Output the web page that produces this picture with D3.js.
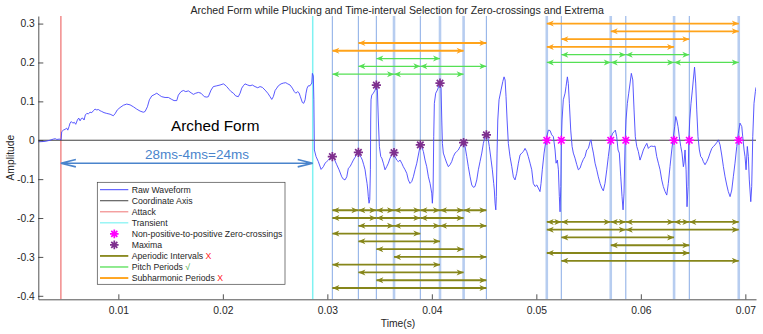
<!DOCTYPE html>
<html>
<head>
<meta charset="utf-8">
<style>
  body { margin: 0; background: #fff; }
  .chart text { font-family: "Liberation Sans", Arial, Helvetica, sans-serif; fill: #262626; }
</style>
</head>
<body>
<div class="chart"></div>
<script src="https://d3js.org/d3.v7.min.js"></script>
<script>
// raw waveform (time in ms, amplitude)
const waveMs = [2.34,2.99,3.46,3.78,3.97,4.11,4.35,4.52,4.58,4.74,4.90,5.06,5.16,5.28,5.38,5.50,5.64,5.79,5.92,6.08,
  6.21,6.34,6.46,6.59,6.72,6.84,6.98,7.13,7.29,7.46,7.61,7.77,7.93,8.09,8.25,8.41,8.63,8.89,9.21,9.52,
  9.68,9.90,10.16,10.48,10.80,11.12,11.44,11.76,12.08,12.39,12.56,12.78,12.97,13.20,13.42,13.68,13.92,14.15,14.47,14.79,
  15.11,15.33,15.59,15.74,16.00,16.22,16.45,16.70,16.96,17.18,17.41,17.66,17.91,18.23,18.46,18.61,18.87,19.09,19.42,19.73,
  20.05,20.21,20.37,20.59,20.79,21.01,21.23,21.48,21.65,21.81,21.96,22.12,22.38,22.60,22.82,23.08,23.34,23.56,23.78,24.04,
  24.30,24.52,24.68,24.83,25.00,25.16,25.31,25.57,25.79,26.02,26.21,26.43,26.65,26.84,26.98,27.17,27.29,27.42,27.61,27.74,
  27.87,27.96,28.06,28.18,28.34,28.51,28.57,28.66,28.71,28.76,28.92,29.14,29.40,29.62,29.78,29.94,30.10,30.35,30.48,30.67,
  30.90,31.12,31.38,31.53,31.69,31.86,32.01,32.17,32.34,32.49,32.65,32.91,32.97,33.06,33.23,33.35,33.48,33.61,33.70,33.80,
  33.87,33.92,33.99,34.06,34.12,34.15,34.18,34.25,34.40,34.57,34.69,34.79,34.88,34.98,35.11,35.21,35.36,35.52,35.68,35.84,
  36.00,36.16,36.38,36.48,36.64,36.79,36.96,37.12,37.27,37.44,37.60,37.75,37.91,38.08,38.23,38.39,38.56,38.71,38.90,39.03,
  39.19,39.35,39.51,39.67,39.83,39.99,40.05,40.12,40.18,40.24,40.37,40.53,40.76,40.88,40.95,41.01,41.10,41.26,41.43,41.58,
  41.74,41.90,42.06,42.22,42.38,42.54,42.70,42.86,43.05,43.18,43.34,43.49,43.66,43.82,43.97,44.13,44.30,44.45,44.61,44.78,
  44.93,45.09,45.22,45.35,45.50,45.67,45.79,45.92,45.98,46.05,46.12,46.17,46.24,46.31,46.43,46.62,46.79,46.91,47.01,47.10,
  47.20,47.32,47.48,47.65,47.80,47.96,48.12,48.28,48.44,48.60,48.76,48.92,49.08,49.23,49.40,49.56,49.71,49.88,50.04,50.19,
  50.35,50.45,50.57,50.74,50.90,51.00,51.15,51.31,51.47,51.63,51.79,51.89,52.01,52.11,52.20,52.27,52.34,52.39,52.46,52.58,
  52.75,52.84,52.97,53.06,53.16,53.29,53.42,53.54,53.70,53.87,54.02,54.18,54.34,54.50,54.66,54.82,54.98,55.14,55.23,55.33,
  55.46,55.62,55.78,55.93,56.10,56.26,56.41,56.57,56.74,56.89,57.05,57.18,57.31,57.44,57.56,57.69,57.82,57.94,58.08,58.20,
  58.30,58.39,58.49,58.58,58.71,58.84,58.97,59.09,59.23,59.35,59.47,59.61,59.76,59.92,60.09,60.24,60.40,60.57,60.72,60.88,
  61.04,61.20,61.36,61.52,61.68,61.84,62.00,62.15,62.32,62.48,62.63,62.79,62.96,63.11,63.24,63.34,63.44,63.56,63.68,63.82,
  63.94,64.07,64.13,64.23,64.33,64.42,64.52,64.58,64.68,64.80,64.93,65.02,65.14,65.25,65.35,65.47,65.60,65.73,65.86,65.98,
  66.14,66.31,66.46,66.62,66.79,66.94,67.10,67.26,67.42,67.58,67.74,67.90,68.06,68.22,68.37,68.54,68.70,68.85,69.01,69.18,
  69.33,69.49,69.66,69.75,69.88,69.97,70.07,70.19,70.29,70.38,70.52,70.61,70.71,70.83,70.96,71.02];
const waveAmp = [-0.004,-0.003,0.000,0.003,0.004,0.002,0.003,0.001,0.022,0.026,0.028,0.031,0.026,0.035,0.044,0.048,0.044,0.046,0.041,0.052,
  0.057,0.050,0.056,0.057,0.052,0.065,0.069,0.068,0.072,0.071,0.076,0.080,0.078,0.079,0.076,0.074,0.071,0.069,0.067,0.063,
  0.068,0.078,0.084,0.090,0.093,0.091,0.086,0.080,0.075,0.072,0.074,0.086,0.104,0.114,0.117,0.121,0.116,0.112,0.110,0.110,
  0.105,0.102,0.102,0.116,0.125,0.128,0.125,0.127,0.122,0.118,0.121,0.123,0.121,0.112,0.111,0.112,0.129,0.138,0.140,0.142,
  0.145,0.142,0.138,0.131,0.125,0.121,0.114,0.112,0.121,0.134,0.140,0.145,0.142,0.140,0.142,0.138,0.135,0.138,0.136,0.129,
  0.121,0.112,0.105,0.112,0.128,0.134,0.140,0.145,0.147,0.148,0.145,0.142,0.134,0.125,0.121,0.125,0.122,0.112,0.097,0.095,
  0.104,0.121,0.134,0.140,0.140,0.147,0.172,0.165,0.104,-0.025,-0.042,-0.055,-0.075,-0.068,-0.059,-0.055,-0.051,-0.044,-0.042,-0.049,
  -0.063,-0.076,-0.094,-0.100,-0.102,-0.094,-0.072,-0.068,-0.059,-0.051,-0.044,-0.032,-0.031,-0.038,-0.044,-0.051,-0.063,-0.076,-0.094,-0.111,
  -0.128,-0.145,-0.162,-0.153,-0.076,0.052,0.104,0.116,0.121,0.129,0.142,0.129,0.052,-0.016,-0.042,-0.046,-0.059,-0.076,-0.068,-0.059,
  -0.046,-0.038,-0.032,-0.042,-0.051,-0.055,-0.051,-0.059,-0.068,-0.076,-0.085,-0.102,-0.111,-0.106,-0.094,-0.076,-0.059,-0.038,-0.012,-0.016,
  -0.029,-0.051,-0.068,-0.094,-0.111,-0.136,-0.162,-0.128,0.009,0.095,0.121,0.129,0.147,0.134,0.052,-0.008,-0.033,-0.046,-0.059,-0.068,
  -0.063,-0.055,-0.042,-0.033,-0.029,-0.025,-0.016,-0.012,-0.006,-0.016,-0.042,-0.068,-0.094,-0.115,-0.121,-0.119,-0.102,-0.076,-0.055,-0.033,
  -0.008,0.009,0.014,0.009,-0.016,-0.051,-0.076,-0.111,-0.128,-0.162,-0.179,-0.145,-0.033,0.052,0.104,0.129,0.151,0.163,0.155,0.112,
  0.052,-0.008,-0.042,-0.068,-0.094,-0.102,-0.085,-0.059,-0.038,-0.033,-0.029,-0.021,-0.029,-0.042,-0.059,-0.076,-0.111,-0.119,-0.115,-0.123,
  -0.132,-0.111,-0.076,-0.033,-0.004,0.009,0.026,0.025,0.014,0.009,-0.025,-0.059,-0.051,-0.076,-0.145,-0.184,-0.119,-0.008,0.052,0.104,
  0.121,0.138,0.163,0.146,0.095,0.026,-0.016,-0.033,-0.046,-0.063,-0.076,-0.072,-0.059,-0.049,-0.042,-0.025,-0.021,-0.004,0.001,-0.016,
  -0.033,-0.059,-0.076,-0.094,-0.111,-0.123,-0.130,-0.111,-0.076,-0.042,-0.008,0.009,0.018,0.022,0.026,0.009,-0.025,-0.033,-0.094,-0.145,
  -0.179,-0.136,-0.008,0.052,0.095,0.121,0.147,0.172,0.155,0.078,0.009,-0.016,-0.029,-0.051,-0.038,-0.025,-0.016,-0.008,-0.021,-0.016,
  -0.015,-0.016,-0.015,-0.042,-0.059,-0.076,-0.102,-0.119,-0.132,-0.141,-0.111,-0.068,-0.025,0.009,0.035,0.061,0.052,0.035,0.009,-0.016,
  -0.033,-0.068,-0.059,-0.025,-0.076,-0.171,-0.119,-0.008,0.052,0.095,0.129,0.155,0.188,0.147,0.078,0.009,-0.025,-0.042,-0.046,-0.055,
  -0.063,-0.055,-0.046,-0.033,-0.021,-0.016,-0.012,-0.006,0.001,-0.012,-0.038,-0.068,-0.094,-0.115,-0.132,-0.145,-0.128,-0.094,-0.059,-0.016,
  0.018,0.044,0.035,0.009,-0.025,-0.042,-0.076,-0.016,-0.042,-0.102,-0.158,-0.119,0.009,0.095,0.125,0.136];

const attackMs = 4.5;
const transientMs = 28.6;

// maxima in the steady part
const maxMs = [30.48, 32.97, 34.69, 36.38, 38.90, 40.78, 43.04, 45.22];
const maxAmp = [-0.042, -0.031, 0.142, -0.032, -0.012, 0.147, -0.006, 0.014];
// non-positive-to-positive zero-crossings
const zcMs = [51.00, 52.39, 57.12, 58.56, 63.18, 64.64, 69.37];

// intervals as [from index, to index, drawn at amplitude]
const maxSubharmonic = [[1, 7, 0.25], [0, 6, 0.23]];
const maxPitch = [[2, 5, 0.21], [1, 4, 0.19], [4, 7, 0.19], [0, 3, 0.17], [3, 6, 0.17]];
const maxAperiodic = [
  [0, 1, -0.18], [1, 2, -0.18], [2, 3, -0.18], [3, 4, -0.18], [4, 5, -0.18], [5, 6, -0.18], [6, 7, -0.18],
  [0, 2, -0.20], [2, 4, -0.20], [4, 6, -0.20],
  [1, 3, -0.22], [3, 5, -0.22], [5, 7, -0.22],
  [0, 4, -0.24], [1, 5, -0.26], [2, 6, -0.28], [3, 7, -0.30],
  [0, 5, -0.32], [1, 6, -0.34], [2, 7, -0.36], [0, 7, -0.38]
];
const zcSubharmonic = [[0, 6, 0.30], [2, 6, 0.28], [1, 5, 0.26], [0, 4, 0.24]];
const zcPitch = [[1, 3, 0.22], [3, 5, 0.22], [0, 2, 0.20], [2, 4, 0.20], [4, 6, 0.20]];
const zcAperiodic = [
  [0, 1, -0.21], [1, 2, -0.21], [2, 3, -0.21], [3, 4, -0.21], [4, 5, -0.21], [5, 6, -0.21],
  [0, 3, -0.23], [3, 6, -0.23], [1, 4, -0.25], [2, 5, -0.27], [0, 5, -0.29], [1, 6, -0.31]
];
// time lines that show wider and paler
const maxWide = [3, 5, 6];
const zcWide = [0, 2, 4, 6];

const xTicks = [0.01, 0.02, 0.03, 0.04, 0.05, 0.06, 0.07];
const yTicks = [-0.4, -0.3, -0.2, -0.1, 0, 0.1, 0.2, 0.3];

const W = 763, H = 334;
const margin = { left: 38.3, right: 7, top: 16, bottom: 34.7 };
const col = {
  wave: '#4646ff', axis: '#404040', attack: '#f28b8b', transient: '#7ff2f2',
  grid: '#93b3e8', gridWide: '#b7cdf0', zc: '#ff00ff', max: '#7e2f8e',
  aper: '#86861a', pitch: '#55e055', sub: '#ffa31a', note: '#4a84cc'
};

const svg = d3.select('.chart').append('svg')
  .attr('width', W)
  .attr('height', H);

const x = d3.scaleLinear().domain([0.00234, 0.07102]).range([margin.left, W - margin.right]);
const y = d3.scaleLinear().domain([-0.409, 0.3195]).range([H - margin.bottom, margin.top]);
const xm = v => x(v / 1000);
const yTop = margin.top, yBot = H - margin.bottom;

svg.append('clipPath').attr('id', 'plot')
  .append('rect')
  .attr('x', margin.left).attr('y', margin.top)
  .attr('width', W - margin.left - margin.right)
  .attr('height', H - margin.top - margin.bottom);

const plot = svg.append('g').attr('clip-path', 'url(#plot)');

function vline(t, color, width) {
  plot.append('line')
    .attr('x1', xm(t)).attr('x2', xm(t))
    .attr('y1', yTop).attr('y2', yBot)
    .attr('stroke', color).attr('stroke-width', width);
}

// time selection lines
maxMs.forEach((t, i) => vline(t, maxWide.includes(i) ? col.gridWide : col.grid, maxWide.includes(i) ? 2.6 : 1.1));
zcMs.forEach((t, i) => vline(t, zcWide.includes(i) ? col.gridWide : col.grid, zcWide.includes(i) ? 2.6 : 1.1));
vline(attackMs, col.attack, 1.5);
vline(transientMs, col.transient, 1.5);

// coordinate axis (amplitude 0)
plot.append('line')
  .attr('x1', margin.left).attr('x2', W - margin.right)
  .attr('y1', y(0)).attr('y2', y(0))
  .attr('stroke', col.axis).attr('stroke-width', 1);

// raw waveform
const line = d3.line()
  .x(i => xm(waveMs[i]))
  .y(i => y(waveAmp[i]));
plot.append('path')
  .attr('d', line(d3.range(waveMs.length)))
  .attr('fill', 'none')
  .attr('stroke', col.wave)
  .attr('stroke-width', 0.9)
  .attr('stroke-linejoin', 'round');

// double arrows between selected instants
function arrows(list, times, color, width) {
  list.forEach(([i, j, v]) => {
    const x1 = xm(times[i]), x2 = xm(times[j]), yy = y(v);
    plot.append('line')
      .attr('x1', x1).attr('x2', x2).attr('y1', yy).attr('y2', yy)
      .attr('stroke', color).attr('stroke-width', width);
    [[x1, 1], [x2, -1]].forEach(([xx, d]) => {
      plot.append('path')
        .attr('d', `M${xx},${yy}L${xx + d * 7},${yy - 3}L${xx + d * 5},${yy}L${xx + d * 7},${yy + 3}Z`)
        .attr('fill', color);
    });
  });
}
arrows(maxSubharmonic, maxMs, col.sub, 1.9);
arrows(maxPitch, maxMs, col.pitch, 1.3);
arrows(maxAperiodic, maxMs, col.aper, 1.8);
arrows(zcSubharmonic, zcMs, col.sub, 1.9);
arrows(zcPitch, zcMs, col.pitch, 1.3);
arrows(zcAperiodic, zcMs, col.aper, 1.8);

// asterisk markers
const star = r => {
  const a = r * 0.707;
  return `M${-r},0H${r}M0,${-r}V${r}M${-a},${-a}L${a},${a}M${-a},${a}L${a},${-a}`;
};
plot.selectAll('.mx')
  .data(maxMs)
  .join('path')
  .attr('class', 'mx')
  .attr('transform', (t, i) => `translate(${xm(t)},${y(maxAmp[i])})`)
  .attr('d', star(4.6))
  .attr('stroke', col.max).attr('stroke-width', 1.7).attr('fill', 'none');
plot.selectAll('.zc')
  .data(zcMs)
  .join('path')
  .attr('class', 'zc')
  .attr('transform', t => `translate(${xm(t)},${y(0)})`)
  .attr('d', star(4.6))
  .attr('stroke', col.zc).attr('stroke-width', 1.7).attr('fill', 'none');

// annotations
svg.append('text')
  .attr('x', xm(15.04)).attr('y', y(0.024))
  .style('font-size', '15.3px')
  .style('fill', '#000')
  .text('Arched Form');

svg.append('text')
  .attr('x', xm(12.56)).attr('y', y(-0.048))
  .style('font-size', '13.5px')
  .style('fill', col.note)
  .text('28ms-4ms=24ms');

const ay = y(-0.059), a1 = xm(attackMs), a2 = xm(transientMs);
svg.append('path')
  .attr('d', `M${a1},${ay}H${a2}M${a1 + 15},${ay - 3.7}L${a1},${ay}L${a1 + 15},${ay + 3.7}` +
             `M${a2 - 15},${ay - 3.7}L${a2},${ay}L${a2 - 15},${ay + 3.7}`)
  .attr('fill', 'none')
  .attr('stroke', col.note)
  .attr('stroke-width', 1.6);

// axes
const xAxis = d3.axisBottom(x)
  .tickValues(xTicks)
  .tickFormat(d3.format('.2f'))
  .tickSizeInner(-5).tickSizeOuter(0).tickPadding(7);
const yAxis = d3.axisLeft(y)
  .tickValues(yTicks)
  .tickFormat(d => d === 0 ? '0' : d.toFixed(1))
  .tickSizeInner(-5).tickSizeOuter(0).tickPadding(3.5);

const gx = svg.append('g').attr('transform', `translate(0,${yBot})`).call(xAxis);
const gy = svg.append('g').attr('transform', `translate(${margin.left},0)`).call(yAxis);
[gx, gy].forEach(g => {
  g.select('.domain').attr('stroke', '#262626').attr('stroke-width', 0.8);
  g.selectAll('.tick line').attr('stroke', '#262626').attr('stroke-width', 0.8);
  g.selectAll('.tick text')
    .style('font-size', '10.3px')
    .style('font-family', '"Liberation Sans", Arial, sans-serif')
    .attr('fill', '#262626');
});

svg.append('text')
  .attr('x', (margin.left + W - margin.right) / 2).attr('y', 13.5)
  .attr('text-anchor', 'middle')
  .style('font-size', '10.6px')
  .text('Arched Form while Plucking and Time-interval Selection for Zero-crossings and Extrema');

svg.append('text')
  .attr('x', 398).attr('y', 327)
  .attr('text-anchor', 'middle')
  .style('font-size', '10.3px')
  .text('Time(s)');

svg.append('text')
  .attr('transform', `translate(13.5,${(yTop + yBot) / 2}) rotate(-90)`)
  .attr('text-anchor', 'middle')
  .style('font-size', '10.3px')
  .text('Amplitude');

// legend
const legend = [
  { label: 'Raw Waveform', type: 'line', color: col.wave, w: 1 },
  { label: 'Coordinate Axis', type: 'line', color: col.axis, w: 1 },
  { label: 'Attack', type: 'line', color: col.attack, w: 1.2 },
  { label: 'Transient', type: 'line', color: col.transient, w: 1.2 },
  { label: 'Non-positive-to-positive Zero-crossings', type: 'mark', color: col.zc },
  { label: 'Maxima', type: 'mark', color: col.max },
  { label: 'Aperiodic Intervals', type: 'line', color: col.aper, w: 1.8, tag: 'X', tagColor: '#ff2020' },
  { label: 'Pitch Periods', type: 'line', color: col.pitch, w: 1.3, tag: '√', tagColor: '#2ca02c' },
  { label: 'Subharmonic Periods', type: 'line', color: col.sub, w: 1.9, tag: 'X', tagColor: '#ff2020' }
];
const lg = svg.append('g');
lg.append('rect')
  .attr('x', 97.3).attr('y', 182.3)
  .attr('width', 187.7).attr('height', 102)
  .attr('fill', '#fff')
  .attr('stroke', '#444').attr('stroke-width', 0.7);

legend.forEach((d, i) => {
  const cy = 189.7 + i * 11.04;
  if (d.type === 'line') {
    lg.append('line')
      .attr('x1', 100).attr('x2', 128.3).attr('y1', cy).attr('y2', cy)
      .attr('stroke', d.color).attr('stroke-width', d.w);
  } else {
    lg.append('path')
      .attr('transform', `translate(114.3,${cy})`)
      .attr('d', star(4.3))
      .attr('stroke', d.color).attr('stroke-width', 1.7).attr('fill', 'none');
  }
  const t = lg.append('text')
    .attr('x', 131.7).attr('y', cy + 3.1)
    .style('font-size', '8.7px')
    .text(d.label);
  if (d.tag) {
    t.append('tspan').text(' ');
    t.append('tspan').style('fill', d.tagColor).text(d.tag);
  }
});
</script>
</body>
</html>
